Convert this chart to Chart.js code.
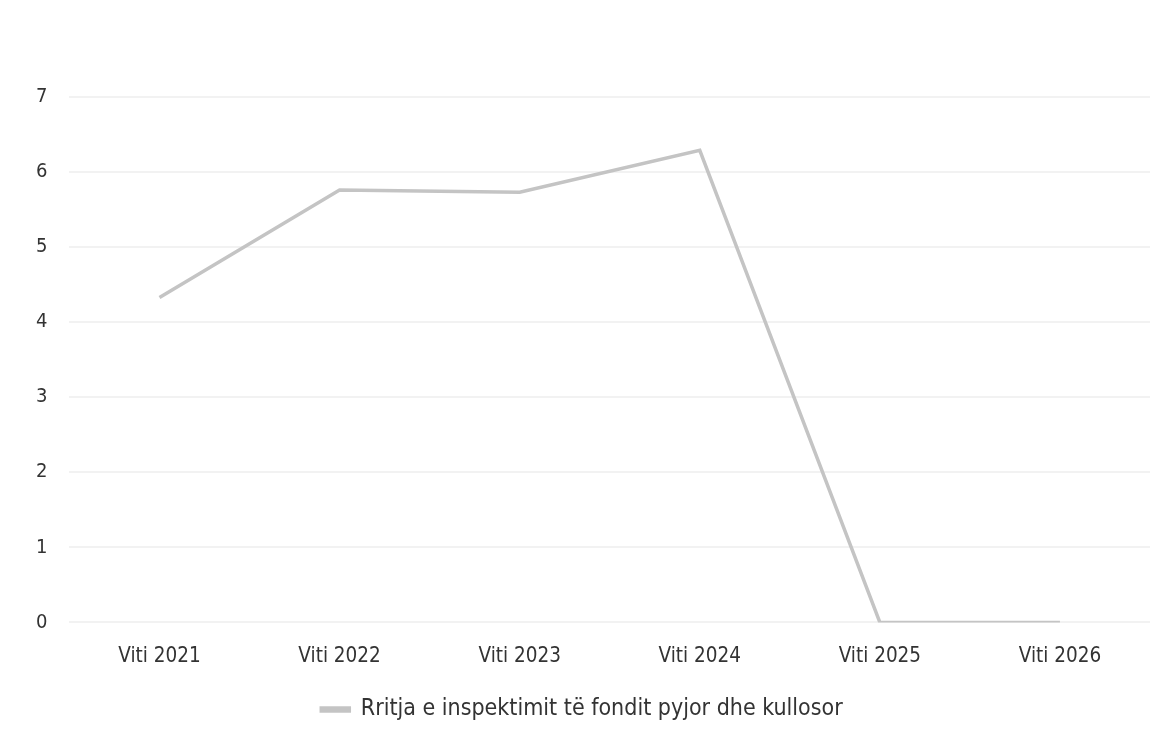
<!DOCTYPE html>
<html><head><meta charset="utf-8">
<script src="https://cdn.jsdelivr.net/npm/chart.js@4/dist/chart.umd.min.js"></script>
<style>html,body{margin:0;padding:0;background:#fff;}canvas{display:block;}</style>
</head><body>
<canvas id="c" width="1170" height="737"></canvas>
<script>
const categories = ["Viti 2021","Viti 2022","Viti 2023","Viti 2024","Viti 2025","Viti 2026"];
const seriesName = "Rritja e inspektimit të fondit pyjor dhe kullosor";
const seriesValues = [4.33, 5.76, 5.73, 6.29, 0, 0];
const yTicks = [0,1,2,3,4,5,6,7];

const fontFamily = "'DejaVu Sans Condensed','DejaVu Sans',sans-serif";
new Chart(document.getElementById('c'), {
  type: 'line',
  data: {
    labels: categories,
    datasets: [{
      label: seriesName,
      data: seriesValues,
      borderColor: '#c4c4c4',
      backgroundColor: '#c4c4c4',
      borderWidth: 3.5,
      pointRadius: 0,
      tension: 0,
      fill: false
    }]
  },
  options: {
    responsive: false,
    animation: false,
    layout: { padding: { top: 97, left: 14, right: 20, bottom: 6 } },
    plugins: {
      legend: {
        position: 'bottom',
        labels: {
          color: '#333',
          font: { family: fontFamily, size: 23 },
          boxWidth: 28, boxHeight: 3,
          padding: 15
        }
      },
      tooltip: { enabled: false }
    },
    scales: {
      x: {
        offset: true,
        grid: { display: false },
        border: { display: false },
        ticks: { color: '#333', font: { family: fontFamily, size: 20.5 }, padding: 14 }
      },
      y: {
        min: 0, max: 7,
        afterBuildTicks: (s) => { s.ticks = yTicks.map(v => ({ value: v })); },
        grid: { color: '#f2f2f2', lineWidth: 2, drawTicks: false },
        border: { display: false },
        ticks: { color: '#333', font: { family: fontFamily, size: 20 }, padding: 22 }
      }
    }
  }
});
</script>
</body></html>
